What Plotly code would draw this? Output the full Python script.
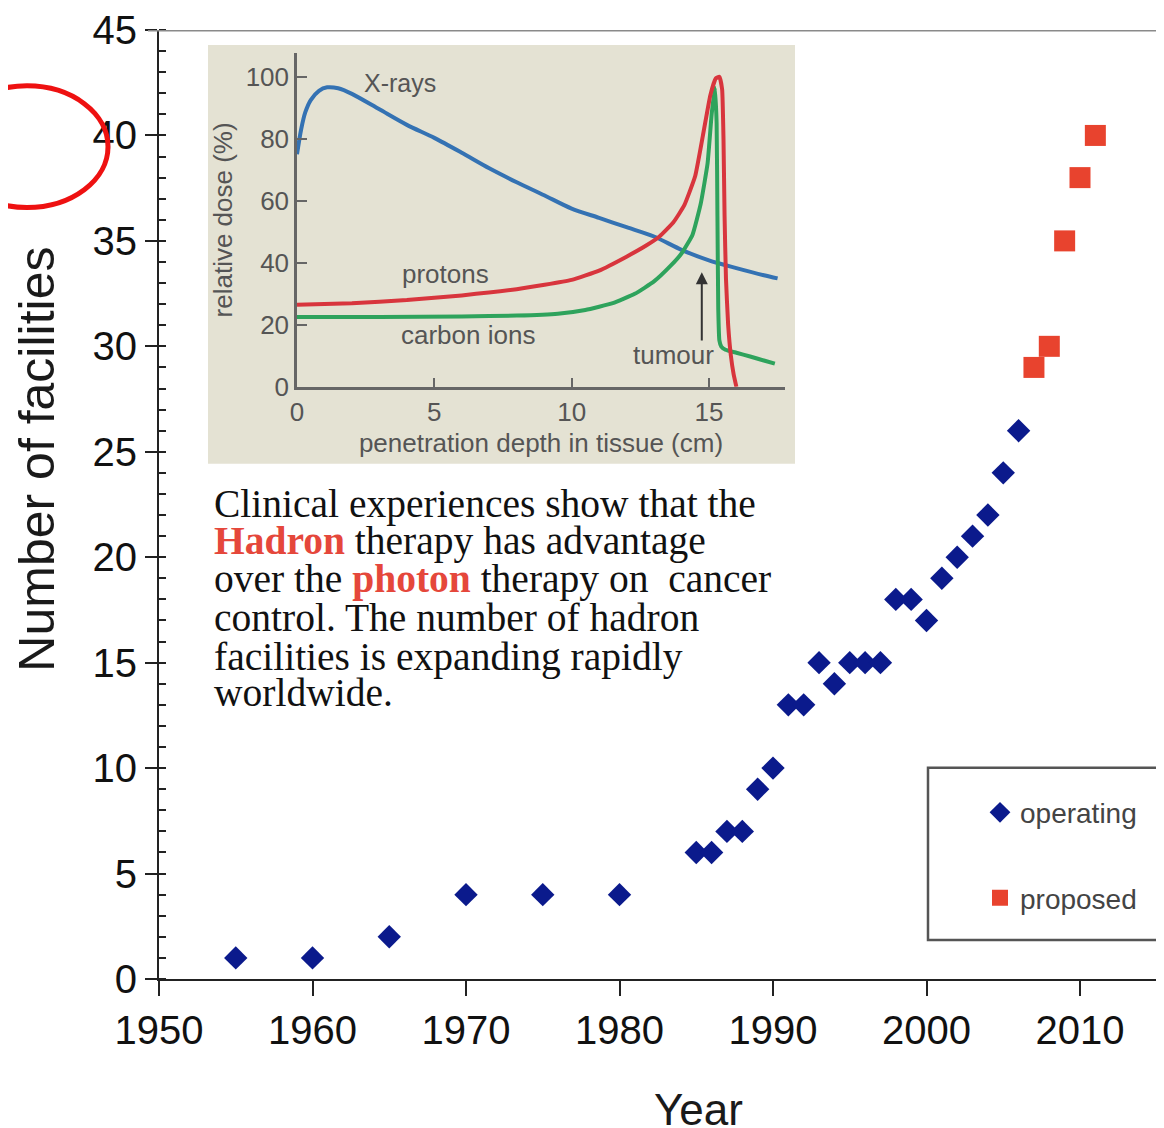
import plotly.graph_objects as go

# ---------------- data ----------------
op_years = [1955, 1960, 1965, 1970, 1975, 1980, 1985, 1986, 1987, 1988, 1989, 1990,
            1991, 1992, 1993, 1994, 1995, 1996, 1997, 1998, 1999, 2000, 2001, 2002,
            2003, 2004, 2005, 2006]
op_counts = [1, 1, 2, 4, 4, 4, 6, 6, 7, 7, 9, 10,
             13, 13, 15, 14, 15, 15, 15, 18, 18, 17, 19, 20,
             21, 22, 24, 26]
prop_years = [2007, 2008, 2009, 2010, 2011]
prop_counts = [29, 30, 35, 38, 40]

xray_depth = [0, 0.15, 0.3, 0.5, 0.8, 1.1, 1.5, 2.0, 3.0, 4.0, 5.0, 6.0, 7.0, 8.0,
              9.0, 10.0, 11.0, 12.0, 13.0, 14.0, 15.0, 16.0, 17.0, 17.5]
xray_dose = [75, 83, 88.5, 92.5, 95.5, 96.6, 96.3, 94.5, 89.5, 84.5, 80.3, 75.5, 70.5,
             66, 61.8, 57.5, 54.5, 51.5, 48.5, 44.2, 40.8, 38.3, 36, 35]

proton_depth = [0, 2, 4, 6, 8, 10, 11, 12, 12.7, 13.2, 13.7, 14.1, 14.5, 14.8, 15.05,
                15.25, 15.38, 15.48, 15.53, 15.57, 15.62, 15.7, 15.8, 15.9, 16.0]
proton_dose = [26.5, 27, 28, 29.5, 31.5, 34.5, 37.5, 42, 45.5, 48.5, 53, 58.5, 68, 82, 94,
               99.5, 100, 96, 80, 55, 35, 20, 10, 4, 0]

carbon_depth = [0, 3, 6, 8, 9.5, 10.5, 11.5, 12.3, 13.0, 13.6, 14.0, 14.4, 14.7, 14.95,
                15.1, 15.22, 15.28, 15.31, 15.34, 15.38, 15.45, 15.6, 16.0, 16.5, 17.0, 17.4]
carbon_dose = [22.5, 22.5, 22.7, 23, 23.6, 24.8, 27, 30, 34, 39, 43, 49, 59, 72,
               88, 96.5, 85, 55, 25, 15, 13, 12, 11, 9.8, 8.5, 7.5]

text_lines = [
    "Clinical experiences show that the",
    "<b><span style='color:#e5473b'>Hadron</span></b> therapy has advantage",
    "over the <b><span style='color:#e5473b'>photon</span></b> therapy on  cancer",
    "control. The number of hadron",
    "facilities is expanding rapidly",
    "worldwide.",
]

SANS = "Liberation Sans, Arial, sans-serif"
SERIF = "Liberation Serif, Times New Roman, serif"

# the page body adds an 8 px margin, so the figure is shifted by OFF
OFF = 8
W, H = 1164 - OFF, 1128 - OFF
L = 159 - OFF            # left edge of plot area in figure px
T = 27 - OFF             # top of plot area
PB = 979 - OFF           # bottom of plot area
B = H - PB
PW, PH = W - L, PB - T


def px(xr):
    """reference-image x pixel -> paper x"""
    return (xr - OFF - L) / PW


def py(yr):
    """reference-image y pixel -> paper y"""
    return (PB - (yr - OFF)) / PH


fig = go.Figure()

fig.add_trace(go.Scatter(
    x=op_years, y=op_counts, mode="markers", name="operating",
    marker=dict(symbol="diamond", size=18, color="#0b1a8c"),
    legendgroup="a", xaxis="x", yaxis="y"))
fig.add_trace(go.Scatter(
    x=prop_years, y=prop_counts, mode="markers", name="proposed",
    marker=dict(symbol="square", size=21, color="#e8432e"),
    legendgroup="b", xaxis="x", yaxis="y"))

# inset curves
fig.add_trace(go.Scatter(x=xray_depth, y=xray_dose, mode="lines", showlegend=False,
                         line=dict(color="#3472b3", width=4, shape="spline", smoothing=0.8),
                         xaxis="x3", yaxis="y3"))
fig.add_trace(go.Scatter(x=carbon_depth, y=carbon_dose, mode="lines", showlegend=False,
                         line=dict(color="#2ea35c", width=4, shape="spline", smoothing=0.4),
                         xaxis="x3", yaxis="y3"))
fig.add_trace(go.Scatter(x=proton_depth, y=proton_dose, mode="lines", showlegend=False,
                         line=dict(color="#d8353d", width=4, shape="spline", smoothing=0.4),
                         xaxis="x3", yaxis="y3"))

XR = [1950, 1950 + PW / 15.35]

annotations = []
line_y = [502, 540, 578, 617, 656, 692]
for t, yc in zip(text_lines, line_y):
    annotations.append(dict(text=t, xref="paper", yref="paper", x=px(212), y=py(yc),
                            xanchor="left", yanchor="middle", showarrow=False,
                            font=dict(family=SERIF, size=39.5, color="#111")))

annotations += [
    dict(text="Number of facilities", xref="paper", yref="paper", x=px(37), y=py(458),
         textangle=-90, showarrow=False, xanchor="center", yanchor="middle",
         font=dict(family=SANS, size=50, color="#1a1a1a")),
    dict(text="Year", xref="paper", yref="paper", x=px(698), y=py(1110),
         showarrow=False, xanchor="center", yanchor="middle",
         font=dict(family=SANS, size=44, color="#1a1a1a")),
    dict(text="X-rays", xref="x3", yref="y3", x=3.75, y=98, showarrow=False,
         font=dict(family=SANS, size=25, color="#555")),
    dict(text="protons", xref="x3", yref="y3", x=5.42, y=36.3, showarrow=False,
         font=dict(family=SANS, size=26, color="#555")),
    dict(text="carbon ions", xref="x3", yref="y3", x=6.22, y=16.7, showarrow=False,
         font=dict(family=SANS, size=26, color="#555")),
    dict(text="tumour", xref="x3", yref="y3", x=13.7, y=10.3, showarrow=False,
         font=dict(family=SANS, size=26, color="#555")),
    dict(text="", xref="x3", yref="y3", x=14.74, y=37, axref="x3", ayref="y3",
         ax=14.74, ay=14.5, showarrow=True, arrowhead=2, arrowsize=1.2,
         arrowwidth=2, arrowcolor="#333"),
]

shapes = [
    dict(type="rect", xref="paper", yref="paper", x0=px(208), x1=px(795),
         y0=py(462), y1=py(42), fillcolor="#e4e2d3", line=dict(width=0), layer="below"),
    dict(type="rect", xref="paper", yref="paper", x0=px(928), x1=px(1200),
         y0=py(940), y1=py(767), fillcolor="white", line=dict(color="#555", width=2.5),
         layer="below"),
    dict(type="line", xref="paper", yref="y", x0=px(148), x1=1, y0=45, y1=45,
         line=dict(color="#8a8a8a", width=3)),
    dict(type="circle", xref="paper", yref="paper", x0=px(-54), x1=px(108),
         y0=py(205), y1=py(83), line=dict(color="#ee1111", width=5)),
]

fig.update_layout(
    width=W, height=H,
    margin=dict(l=L, r=0, t=T, b=B),
    paper_bgcolor="white", plot_bgcolor="rgba(0,0,0,0)",
    font=dict(family=SANS),
    xaxis=dict(range=XR, domain=[0, 1], anchor="y", showline=True, linecolor="#222",
               linewidth=2, ticks="outside", ticklen=15, tickwidth=2, tickcolor="#222",
               tick0=1950, dtick=10, showgrid=False, zeroline=False,
               ticklabeloverflow="allow",
               tickfont=dict(family=SANS, size=40, color="#111")),
    xaxis2=dict(range=XR, domain=[0, 1], anchor="y", overlaying="x", side="bottom",
                ticks="inside", ticklen=8, tickwidth=2, tickcolor="#222", tick0=1950,
                dtick=5, showticklabels=False, showline=False, showgrid=False,
                zeroline=False),
    yaxis=dict(range=[0, 45], domain=[0, 1], anchor="x", showline=True, linecolor="#222",
               linewidth=2, ticks="outside", ticklen=12, tickwidth=2, tickcolor="#222",
               dtick=5, showgrid=False, zeroline=False, ticklabeloverflow="allow",
               minor=dict(ticks="inside", dtick=1, ticklen=7, tickwidth=2, tickcolor="#222"),
               tickfont=dict(family=SANS, size=40, color="#111")),
    xaxis3=dict(range=[0, 17.77], domain=[px(297), px(785)], anchor="y3",
                showline=True, linecolor="#666", linewidth=2.5, ticks="inside",
                ticklen=9, tickwidth=2, tickcolor="#666", tickvals=[0, 5, 10, 15],
                showgrid=False, zeroline=False,
                tickfont=dict(family=SANS, size=26, color="#555"),
                title=dict(text="penetration depth in tissue (cm)", standoff=8,
                           font=dict(family=SANS, size=26, color="#555"))),
    yaxis3=dict(range=[0, 107.7], domain=[py(385), py(50)], anchor="x3",
                showline=True, linecolor="#666", linewidth=2.5, ticks="inside",
                ticklen=10, tickwidth=2, tickcolor="#666",
                tickvals=[0, 20, 40, 60, 80, 100], showgrid=False, zeroline=False,
                tickfont=dict(family=SANS, size=26, color="#555"),
                title=dict(text="relative dose (%)", standoff=6,
                           font=dict(family=SANS, size=26, color="#555"))),
    legend=dict(x=px(980), y=py(787), xanchor="left", yanchor="top",
                bgcolor="rgba(0,0,0,0)", borderwidth=0, tracegroupgap=46,
                font=dict(family=SANS, size=28, color="#444")),
    annotations=annotations,
    shapes=shapes,
)

fig.write_html("out.html")
